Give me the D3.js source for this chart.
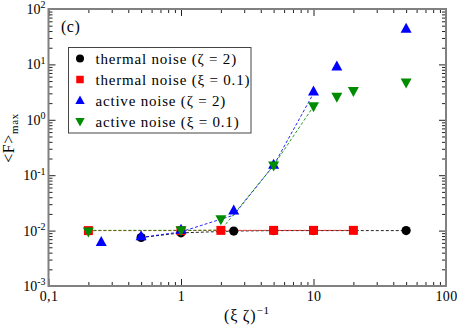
<!DOCTYPE html>
<html><head><meta charset="utf-8">
<script src="https://cdn.jsdelivr.net/npm/d3@7"></script>
<style>body{margin:0;background:#fff}</style>
</head><body><div id="chart"></div>
<script>
// ---- data ----
const thermalZetaX = [0.5, 1, 2.5, 5, 10, 50];
const thermalZetaY = [0.0075, 0.0091, 0.0098, 0.0100, 0.0100, 0.0100];
const thermalXiX = [0.2, 1, 2, 5, 10, 20];
const thermalXiY = [0.0100, 0.0100, 0.0101, 0.0101, 0.0101, 0.0101];
const activeZetaX = [0.25, 0.5, 1, 2.5, 5, 10, 15, 50];
const activeZetaY = [0.0062, 0.0079, 0.0104, 0.023, 0.155, 3.25, 9.2, 44];
const activeXiX = [0.2, 1, 2, 5, 10, 15, 20, 50];
const activeXiY = [0.0096, 0.0101, 0.0160, 0.15, 1.75, 2.6, 3.3, 4.7];
// dashed guide lines
const lineThermalZetaX = [0.5, 1, 2.5, 5, 10, 50];
const lineThermalZetaY = [0.0075, 0.0091, 0.0098, 0.0100, 0.0100, 0.0100];
const lineThermalXiX = [0.2, 1, 2, 5, 10, 20];
const lineThermalXiY = [0.0100, 0.0100, 0.0101, 0.0101, 0.0101, 0.0101];
const lineActiveZetaX = [0.5, 1, 2.5, 5, 10];
const lineActiveZetaY = [0.0075, 0.0095, 0.019, 0.15, 3.0];
const lineActiveXiX = [0.2, 1, 2, 5, 10];
const lineActiveXiY = [0.0101, 0.0101, 0.0102, 0.15, 1.75];
const xTicks = [0.1, 1, 10, 100];
const xTickLabels = ["0,1", "1", "10", "100"];
const yTicks = [1e-3, 1e-2, 1e-1, 1e0, 1e1, 1e2];
const yTickExps = ["-3", "-2", "-1", "0", "1", "2"];
const legendLabels = ["thermal noise (\u03B6 = 2)", "thermal noise (\u03BE = 0.1)", "active noise (\u03B6 = 2)", "active noise (\u03BE = 0.1)"];

// ---- setup ----
const FONT = "'Liberation Serif', 'Times New Roman', serif";
const W = 457, H = 328;
const L = 48.5, R = 446, T = 9, B = 286;
const svg = d3.select("#chart").append("svg").attr("width", W).attr("height", H).attr("font-family", FONT);
const x = d3.scaleLog().domain([0.1, 100]).range([L, R]);
const y = d3.scaleLog().domain([1e-3, 1e2]).range([B, T]);

function minors(lo, hi) {
  const out = [];
  for (let e = Math.log10(lo); e < Math.log10(hi); e++)
    for (let k = 2; k <= 9; k++) out.push(k * Math.pow(10, e));
  return out;
}
const xMinor = minors(0.1, 100), yMinor = minors(1e-3, 1e2);
const tickCol = "#222", frameCol = "#808080";

function styleAxis(g) {
  g.attr("font-family", FONT);
  g.select(".domain").remove();
  g.selectAll(".tick line").attr("stroke", tickCol).attr("stroke-width", 1);
}
// bottom
svg.append("g").attr("transform", `translate(0,${B})`)
  .call(d3.axisBottom(x).tickValues(xMinor).tickSize(-4).tickFormat("")).call(styleAxis);
const gxb = svg.append("g").attr("transform", `translate(0,${B})`)
  .call(d3.axisBottom(x).tickValues(xTicks).tickSize(-7).tickPadding(5).tickFormat((d, i) => xTickLabels[i])).call(styleAxis);
gxb.selectAll("text").attr("font-size", 14).attr("letter-spacing", 0.3).attr("fill", "#000");
// top
svg.append("g").attr("transform", `translate(0,${T})`)
  .call(d3.axisTop(x).tickValues(xMinor).tickSize(-4).tickFormat("")).call(styleAxis);
svg.append("g").attr("transform", `translate(0,${T})`)
  .call(d3.axisTop(x).tickValues(xTicks).tickSize(-7).tickFormat("")).call(styleAxis);
// left
svg.append("g").attr("transform", `translate(${L},0)`)
  .call(d3.axisLeft(y).tickValues(yMinor).tickSize(-4).tickFormat("")).call(styleAxis);
const gyl = svg.append("g").attr("transform", `translate(${L},0)`)
  .call(d3.axisLeft(y).tickValues(yTicks).tickSize(-7).tickPadding(3).tickFormat("")).call(styleAxis);
gyl.selectAll(".tick text").each(function(d, i) {
  const t = d3.select(this).attr("font-size", 14).attr("fill", "#000").attr("dy", "0.32em").attr("x", -3).attr("text-anchor", "end");
  t.text(null);
  t.append("tspan").text("10");
  t.append("tspan").attr("dy", "-0.55em").attr("font-size", 10).text(yTickExps[i]);
});
// right
svg.append("g").attr("transform", `translate(${R},0)`)
  .call(d3.axisRight(y).tickValues(yMinor).tickSize(-4).tickFormat("")).call(styleAxis);
svg.append("g").attr("transform", `translate(${R},0)`)
  .call(d3.axisRight(y).tickValues(yTicks).tickSize(-7).tickFormat("")).call(styleAxis);
// frame
svg.append("rect").attr("x", L).attr("y", T).attr("width", R - L).attr("height", B - T)
  .attr("fill", "none").attr("stroke", frameCol).attr("stroke-width", 2);

// ---- lines ----
const lineGen = d3.line().x(d => x(d[0])).y(d => y(d[1]));
function drawLine(xs, ys, col) {
  svg.append("path").datum(xs.map((v, i) => [v, ys[i]])).attr("d", lineGen)
    .attr("fill", "none").attr("stroke", col).attr("stroke-width", 1).attr("stroke-dasharray", "3,2").attr("opacity", 0.85);
}
drawLine(lineThermalZetaX, lineThermalZetaY, "#000");
drawLine(lineThermalXiX, lineThermalXiY, "#ff0000");
drawLine(lineActiveZetaX, lineActiveZetaY, "#0000ff");
drawLine(lineActiveXiX, lineActiveXiY, "#008c00");

// ---- markers ----
const symCircle = d3.symbol().type(d3.symbolCircle).size(Math.PI * 4.6 * 4.6);
const symSquare = d3.symbol().type(d3.symbolSquare).size(9 * 9);
const triUp = (s) => `M0,${-s * 0.6}L${s * 0.55},${s * 0.4}L${-s * 0.55},${s * 0.4}Z`;
const triDown = (s) => `M0,${s * 0.6}L${s * 0.55},${-s * 0.4}L${-s * 0.55},${-s * 0.4}Z`;
function drawPts(xs, ys, pathFn, col) {
  svg.append("g").selectAll("path").data(xs.map((v, i) => [v, ys[i]])).join("path")
    .attr("transform", d => `translate(${x(d[0])},${y(d[1])})`)
    .attr("d", pathFn).attr("fill", col);
}
drawPts(thermalZetaX, thermalZetaY, symCircle(), "#000");
drawPts(thermalXiX, thermalXiY, symSquare(), "#ff0000");
drawPts(activeZetaX, activeZetaY, triUp(10), "#0000ff");
drawPts(activeXiX, activeXiY, triDown(10), "#008c00");

// ---- panel label ----
svg.append("text").attr("x", 61).attr("y", 32).attr("font-size", 16).attr("letter-spacing", 0.5).text("(c)");

// ---- legend ----
const lg = svg.append("g");
lg.append("rect").attr("x", 68.5).attr("y", 47.5).attr("width", 182.5).attr("height", 85.5)
  .attr("fill", "#fff").attr("stroke", "#444").attr("stroke-width", 1);
const legShapes = [
  d3.symbol().type(d3.symbolCircle).size(Math.PI * 4 * 4)(),
  d3.symbol().type(d3.symbolSquare).size(7.5 * 7.5)(),
  triUp(8.5), triDown(8.5)];
const legCols = ["#000", "#ff0000", "#0000ff", "#008c00"];
legendLabels.forEach((lab, i) => {
  const cy = 58.5 + i * 21;
  lg.append("path").attr("transform", `translate(80,${cy})`).attr("d", legShapes[i]).attr("fill", legCols[i]);
  lg.append("text").attr("x", 95.5).attr("y", cy + 5).attr("font-size", 15).attr("letter-spacing", 0.8).text(lab);
});

// ---- axis titles ----
const xt = svg.append("text").attr("x", 224).attr("y", 321).attr("font-size", 16).attr("letter-spacing", 0.8);
xt.append("tspan").text("(\u03BE \u03B6)");
xt.append("tspan").attr("dy", "-0.6em").attr("font-size", 11).text("\u22121");
const yt = svg.append("text").attr("transform", "translate(14,138) rotate(-90)").attr("text-anchor", "middle").attr("font-size", 16).attr("letter-spacing", 0.6);
yt.append("tspan").text("<F>");
yt.append("tspan").attr("dy", "0.35em").attr("font-size", 11).text("max");
</script></body></html>
